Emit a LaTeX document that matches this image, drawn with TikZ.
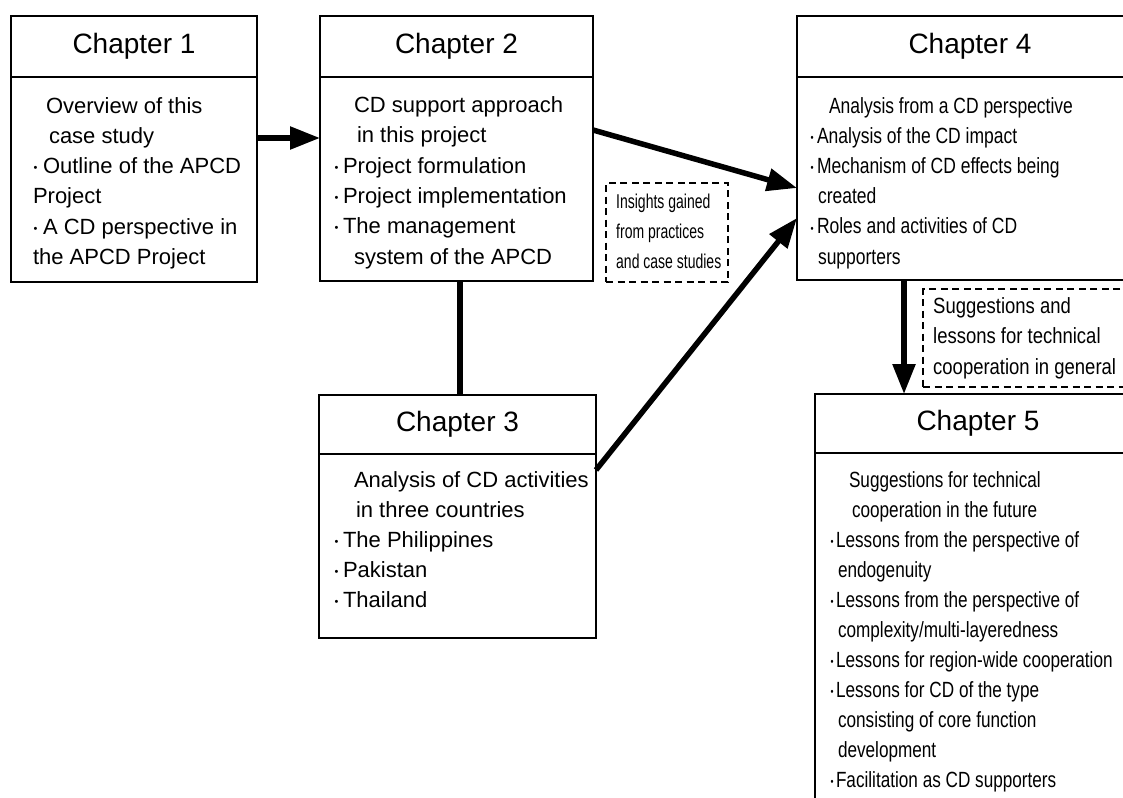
\documentclass[tikz,border=0pt]{standalone}
\usepackage{fontspec}
\setmainfont{Liberation Sans}
\newfontfamily\condfont[FakeStretch=0.795]{Liberation Sans}
\newfontfamily\tightfont[FakeStretch=0.78]{Liberation Sans}
\newfontfamily\narrowfont[FakeStretch=0.7]{Liberation Sans}
\newfontfamily\notefont[FakeStretch=0.84]{Liberation Sans}
\usetikzlibrary{arrows.meta}
% bullet mark followed by a gap of the given width
\newcommand\bul[1]{\makebox[#1][l]{\hspace{0.5pt}\raisebox{0.08em}{\scalebox{0.5}{•}}}}
% invisible strut fixing the height of a first line
\newcommand\firstline{\rule{0pt}{17pt}}

\tikzset{
  frame/.style={draw, line width=2pt, rectangle, inner sep=0pt, outer sep=0pt, anchor=north west},
  titlebox/.style={frame, minimum height=61pt, font=\fontsize{28pt}{34pt}\selectfont},
  notebox/.style={draw, line width=2pt, dash pattern=on 7pt off 4.5pt, rectangle, inner sep=0pt, outer sep=0pt, anchor=north west},
  bodytext/.style={anchor=north west, inner sep=0pt, outer sep=0pt, align=left, font=\fontsize{22pt}{30.3pt}\selectfont},
  condtext/.style={bodytext, font=\fontsize{22pt}{30.2pt}\condfont},
  flow/.style={line width=5.5pt, -{Triangle[length=30pt,width=22pt]}},
  link/.style={line width=6pt},
}

\begin{document}
\begin{tikzpicture}[x=1pt,y=-1pt]
\useasboundingbox (0,0) rectangle (1123,797);
\clip (0,0) rectangle (1123,797);

% Chapter 1
\node[titlebox, minimum width=246pt] (c1t) at (11,16) {Chapter 1};
\node[frame, minimum width=246pt, minimum height=205pt] (c1b) at (c1t.south west) {};
\node[bodytext] (c1x) at (33,96) {\firstline\hspace*{13pt}Overview of this\\
  \hspace*{16pt}case study\\
  \bul{10pt}Outline of the APCD\\
  Project\\
  \bul{10pt}A CD perspective in\\
  the APCD Project};

% Chapter 2
\node[titlebox, minimum width=273pt] (c2t) at (320,16) {Chapter 2};
\node[frame, minimum width=273pt, minimum height=204pt] (c2b) at (c2t.south west) {};
\node[bodytext] (c2x) at (334,95.5) {\firstline\hspace*{20pt}CD support approach\\
  \hspace*{23pt}in this project\\
  \bul{9pt}Project formulation\\
  \bul{9pt}Project implementation\\
  \bul{9pt}The management\\
  \hspace*{20pt}system of the APCD};

% Chapter 3
\node[titlebox, minimum width=277pt, minimum height=59pt] (c3t) at (319,395) {Chapter 3};
\node[frame, minimum width=277pt, minimum height=184pt] (c3b) at (c3t.south west) {};
\node[bodytext, font=\fontsize{22pt}{30pt}\selectfont] (c3x) at (334,470) {\firstline\hspace*{20pt}Analysis of CD activities\\
  \hspace*{22pt}in three countries\\
  \bul{9pt}The Philippines\\
  \bul{9pt}Pakistan\\
  \bul{9pt}Thailand};

% Chapter 4
\node[titlebox, minimum width=346pt] (c4t) at (797,16) {Chapter 4};
\node[frame, minimum width=346pt, minimum height=203pt] (c4b) at (c4t.south west) {};
\node[condtext] (c4x) at (810,96) {\firstline\hspace*{19pt}Analysis from a CD perspective\\
  \bul{7pt}Analysis of the CD impact\\
  \bul{7pt}Mechanism of CD effects being\\
  \hspace*{8pt}created\\
  \bul{7pt}Roles and activities of CD\\
  \hspace*{8pt}supporters};

% Chapter 5
\node[titlebox, minimum width=326pt, minimum height=59pt] (c5t) at (815,394) {Chapter 5};
\node[frame, minimum width=326pt, minimum height=400pt] (c5b) at (c5t.south west) {};
\node[condtext, font=\fontsize{22pt}{30pt}\tightfont] (c5x) at (830,470) {\firstline\hspace*{19pt}Suggestions for technical\\
  \hspace*{22pt}cooperation in the future\\
  \bul{6pt}Lessons from the perspective of\\
  \hspace*{8pt}endogenuity\\
  \bul{6pt}Lessons from the perspective of\\
  \hspace*{8pt}complexity/multi-layeredness\\
  \bul{6pt}Lessons for region-wide cooperation\\
  \bul{6pt}Lessons for CD of the type\\
  \hspace*{8pt}consisting of core function\\
  \hspace*{8pt}development\\
  \bul{6pt}Facilitation as CD supporters};

% Notes in dashed frames
\node[notebox, minimum width=122pt, minimum height=99pt] (ins) at (606,183) {};
\node[anchor=west, inner sep=0pt, align=left, font=\fontsize{20pt}{30pt}\narrowfont] (inst) at ([xshift=10pt,yshift=1pt]ins.west) {Insights gained\\from practices\\and case studies};

\node[notebox, minimum width=222pt, minimum height=98pt] (sug) at (923,289) {};
\node[anchor=west, inner sep=0pt, align=left, font=\fontsize{22pt}{30.5pt}\notefont] (sugt) at ([xshift=10pt]sug.west) {Suggestions and\\lessons for technical\\cooperation in general};

% Connectors
\draw[flow] ([yshift=-61pt]c1b.north east) -- ([yshift=-61pt]c2b.north west);
\draw[flow] ([yshift=-53pt]c2b.north east) -- ([yshift=-111pt]c4b.north west);
\draw[flow] ([yshift=-16pt]c3b.north east) -- ([yshift=-141pt]c4b.north west);
\draw[link] ([xshift=3pt]c2b.south) -- ([xshift=2pt]c3t.north);
\draw[flow] ([xshift=107pt]c4b.south west) -- ([xshift=107pt]c4b.south west |- c5t.north);
\end{tikzpicture}
\end{document}
